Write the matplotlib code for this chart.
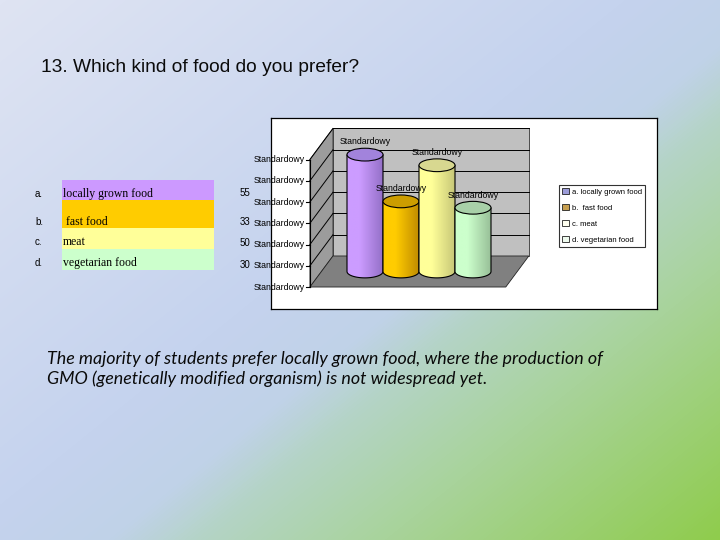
import numpy as np
import matplotlib
matplotlib.use("Agg")
import matplotlib.pyplot as plt
from matplotlib.patches import Polygon, Ellipse, PathPatch, Rectangle
from matplotlib.path import Path
from matplotlib.colors import to_rgb, LinearSegmentedColormap

# ---------------- data ----------------
letters = ["a.", "b.", "c.", "d."]
categories = ["locally grown food", " fast food", "meat", "vegetarian food"]
legend_labels = ["a. locally grown food", "b.  fast food", "c. meat", "d. vegetarian food"]
values = [55, 33, 50, 30]
axis_ticks = [0, 10, 20, 30, 40, 50, 60]
tick_label = "Standardowy"
title = "13. Which kind of food do you prefer?"
comment = ("The majority of students prefer locally grown food, where the production of\n"
           "GMO (genetically modified organism) is not widespread yet.")

# ---------------- styles ----------------
light_cols = ["#cc9cff", "#ffcc00", "#ffff99", "#ccffcc"]
dark_cols = ["#9470c8", "#c08c00", "#c8c878", "#98c098"]
top_cols = ["#a283dc", "#cc9d00", "#d8d890", "#a8d0a8"]
table_cols = ["#cc99ff", "#ffcc00", "#ffff99", "#ccffcc"]
legend_cols = ["#9c9cd8", "#c8a050", "#fffff0", "#eefaee"]

fig = plt.figure(figsize=(7.2, 5.4), dpi=100)

# ---------------- background gradient ----------------
bg = fig.add_axes([0, 0, 1, 1])
bg.set_xlim(0, 720)
bg.set_ylim(540, 0)
bg.axis("off")
yy, xx = np.mgrid[0:540, 0:720]
t = (420 * xx + 520 * yy) / 583200.0
stops = [(0.0, "#dfe4f3"), (0.45, "#c5d3ee"), (0.56, "#c0d2e8"),
         (0.625, "#b4d4c6"), (0.76, "#a8d39a"), (1.0, "#8fcc4c")]
cmap_bg = LinearSegmentedColormap.from_list("bg", [(p, to_rgb(c)) for p, c in stops])
bg.imshow(t, cmap=cmap_bg, vmin=0, vmax=1, extent=(0, 720, 540, 0), aspect="auto", zorder=0)
bg.set_xlim(0, 720)
bg.set_ylim(540, 0)

# title
bg.text(41, 67, title, fontsize=13.8, family="Liberation Sans", va="center", ha="left",
        color="#0a0a0a", zorder=2)
# comment
bg.text(47, 369, comment, fontsize=12.9, family="Lato", style="italic", va="center",
        ha="left", color="#0a0a0a", linespacing=1.25, zorder=2)

# ---------------- table on the left ----------------
row_tops = [180, 200, 228, 249]
row_bots = [200, 228, 249, 270]
text_y = [194, 222, 242, 263]
num_y = [193, 222, 243, 265]
for i in range(4):
    bg.add_patch(Rectangle((62, row_tops[i]), 152, row_bots[i] - row_tops[i],
                           facecolor=table_cols[i], edgecolor="none", zorder=1))
    bg.text(35, text_y[i], letters[i], fontsize=7, family="Liberation Sans",
            va="center", ha="left", zorder=2)
    bg.text(63, text_y[i], categories[i], fontsize=8.5, family="Liberation Serif",
            va="center", ha="left", zorder=2)
    bg.text(240, num_y[i], str(values[i]), fontsize=7, family="Liberation Sans",
            va="center", ha="left", zorder=2)

# ---------------- 3D cylinder chart ----------------
L, B, W, H = 271, 118, 386, 191
ax = fig.add_axes([L / 720, 1 - (B + H) / 540, W / 720, H / 540])
ppu_x = 36.0
ppu_y = 2.125
x0_px, y0_px = 365.0, 271.5
xlim = ((L - x0_px) / ppu_x, (L + W - x0_px) / ppu_x)
ylim = ((y0_px - (B + H)) / ppu_y, (y0_px - B) / ppu_y)
ax.set_xticks([])
ax.set_yticks([])
for s in ax.spines.values():
    s.set_linewidth(0.9)
    s.set_color("black")
ax.set_facecolor("white")

dx, dy = 0.32, 7.3
n = len(values)
pmin, pmax = -1.21, n - 1 + 1.23
vmax = axis_ticks[-1]

# walls
back = Polygon([(pmin + dx, dy), (pmax + dx, dy), (pmax + dx, vmax + dy), (pmin + dx, vmax + dy)],
               closed=True, facecolor="#c0c0c0", edgecolor="#333333", lw=0.6, zorder=1)
side = Polygon([(pmin - dx, -dy), (pmin + dx, dy), (pmin + dx, vmax + dy), (pmin - dx, vmax - dy)],
               closed=True, facecolor="#9c9c9c", edgecolor="#333333", lw=0.6, zorder=1)
floor = Polygon([(pmin - dx, -dy), (pmax - dx, -dy), (pmax + dx, dy), (pmin + dx, dy)],
                closed=True, facecolor="#808080", edgecolor="#222222", lw=0.6, zorder=1)
for p in (back, side, floor):
    ax.add_patch(p)

# gridlines
for v in axis_ticks[1:]:
    ax.plot([pmin + dx, pmax + dx], [v + dy, v + dy], color="black", lw=0.7, zorder=2)
    ax.plot([pmin - dx, pmin + dx], [v - dy, v + dy], color="black", lw=0.7, zorder=2)

# front axis, ticks and labels
ax.plot([pmin - dx, pmin - dx], [-dy, vmax - dy], color="black", lw=0.8, zorder=3)
for v in axis_ticks:
    ax.plot([pmin - dx - 0.11, pmin - dx], [v - dy, v - dy], color="black", lw=0.8, zorder=3)
    ax.text(pmin - dx - 0.13, v - dy, tick_label, fontsize=6.3, family="Liberation Sans",
            ha="right", va="center", zorder=3, clip_on=False)

# cylinders
r = 0.5
ry = 3.0
theta_b = np.linspace(np.pi, 2 * np.pi, 60)
for i, v in enumerate(values):
    cx = i
    verts = [(cx - r, v)]
    verts += [(cx + r * np.cos(a), ry * np.sin(a)) for a in theta_b]
    verts += [(cx + r, v), (cx - r, v)]
    path = Path(verts)
    cm = LinearSegmentedColormap.from_list("c%d" % i,
                                           [(0, light_cols[i]), (0.35, light_cols[i]), (1, dark_cols[i])])
    grad = np.linspace(0, 1, 100).reshape(1, -1)
    im = ax.imshow(grad, cmap=cm, extent=(cx - r, cx + r, -ry, v), aspect="auto",
                   zorder=4 + i, interpolation="bilinear")
    body = PathPatch(path, facecolor="none", edgecolor="black", lw=0.8, zorder=4.5 + i)
    ax.add_patch(body)
    im.set_clip_path(body)
    top = Ellipse((cx, v), 2 * r, 2 * ry, facecolor=top_cols[i], edgecolor="black",
                  lw=0.8, zorder=4.6 + i)
    ax.add_patch(top)
    ax.text(cx, v + 6, tick_label, fontsize=6.3, family="Liberation Sans",
            ha="center", va="center", zorder=10)

ax.set_xlim(*xlim)
ax.set_ylim(*ylim)

# legend
handles = [Rectangle((0, 0), 1, 1, facecolor=legend_cols[i], edgecolor="#222222", lw=0.6)
           for i in range(n)]
leg = ax.legend(handles, legend_labels, loc="upper left", bbox_to_anchor=(0.746, 0.649),
                borderaxespad=0, frameon=True, fancybox=False,
                handlelength=0.8, handleheight=0.8, handletextpad=0.4,
                labelspacing=1.1, borderpad=0.45, prop={"family": "Liberation Sans", "size": 5.5})
leg.get_frame().set_edgecolor("black")
leg.get_frame().set_linewidth(0.8)

fig.savefig("out.png", dpi=100)
